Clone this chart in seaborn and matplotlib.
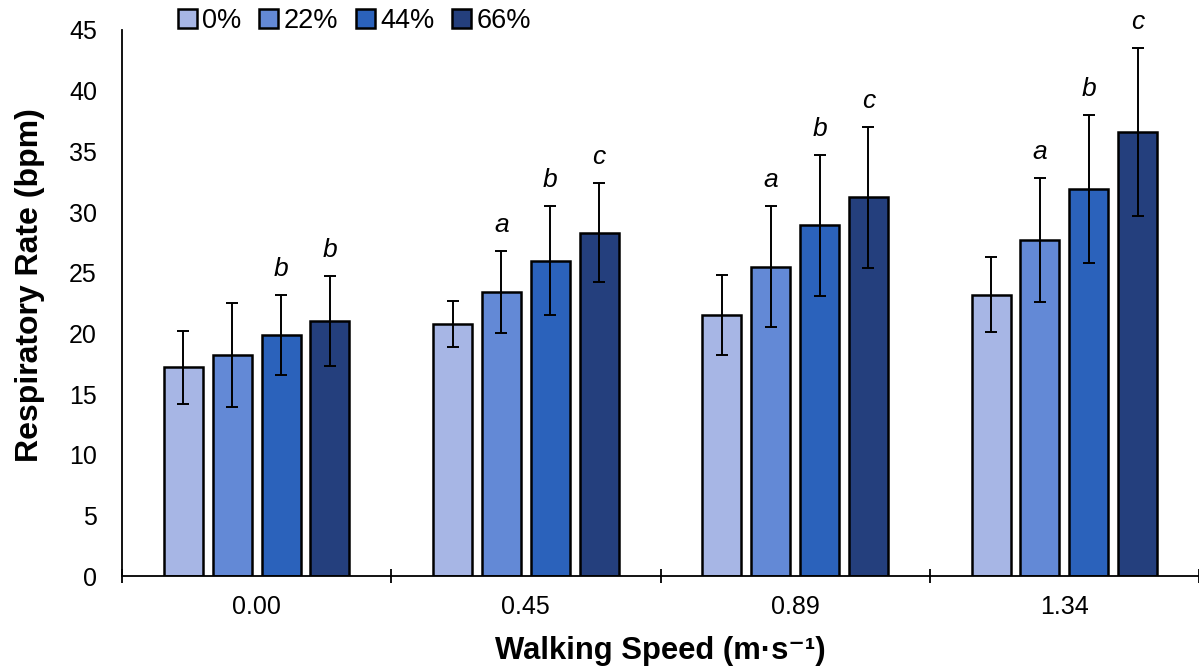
import matplotlib
matplotlib.use("Agg")
import matplotlib.pyplot as plt
import seaborn as sns
import pandas as pd
import numpy as np

speeds = ["0.00", "0.45", "0.89", "1.34"]
loads = ["0%", "22%", "44%", "66%"]
means = {
    "0%":  [17.2, 20.8, 21.5, 23.2],
    "22%": [18.2, 23.4, 25.5, 27.7],
    "44%": [19.9, 26.0, 28.9, 31.9],
    "66%": [21.0, 28.3, 31.2, 36.6],
}
sds = {
    "0%":  [3.0, 1.9, 3.3, 3.1],
    "22%": [4.3, 3.4, 5.0, 5.1],
    "44%": [3.3, 4.5, 5.8, 6.1],
    "66%": [3.7, 4.1, 5.8, 6.9],
}
letters = {
    "0%":  ["", "", "", ""],
    "22%": ["", "a", "a", "a"],
    "44%": ["b", "b", "b", "b"],
    "66%": ["b", "c", "c", "c"],
}
colors = ["#A7B6E5", "#6389D6", "#2B62BB", "#243F7D"]

rows = []
for L in loads:
    for i, s in enumerate(speeds):
        rows.append({"speed": s, "load": L, "rate": means[L][i]})
df = pd.DataFrame(rows)

sns.set_theme(style="white")
plt.rcParams["font.family"] = ["Liberation Sans", "DejaVu Sans"]
plt.rcParams["text.color"] = "black"
plt.rcParams["axes.labelcolor"] = "black"

fig = plt.figure(figsize=(11.99, 6.71), dpi=100)
ax = fig.add_axes([122/1199, 1-576/671, 1-122/1199, (576-30)/671])

sns.barplot(data=df, x="speed", y="rate", hue="load", order=speeds, hue_order=loads,
            palette=colors, saturation=1, width=0.726, gap=0.2, edgecolor="black",
            linewidth=1.8, errorbar=None, ax=ax)

for L, cont in zip(loads, ax.containers):
    xs = [p.get_x() + p.get_width()/2 for p in cont.patches]
    hs = [p.get_height() for p in cont.patches]
    ax.errorbar(xs, hs, yerr=sds[L], fmt="none", ecolor="black", elinewidth=1.4,
                capsize=4.5, capthick=1.4, zorder=5)
    for x, h, e, t in zip(xs, hs, sds[L], letters[L]):
        if t:
            ax.text(x, h + e + 1.15, t, ha="center", va="bottom", fontsize=19,
                    style="italic", color="black")

ax.set_ylim(0, 45)
ax.set_xlim(-0.5, 3.5)
ax.set_yticks(np.arange(0, 46, 5))
ax.tick_params(axis="y", direction="inout", length=12, width=1.3, labelsize=18, pad=12,
               colors="black")
ax.set_xticks([0, 1, 2, 3])
ax.set_xticklabels(speeds)
ax.tick_params(axis="x", which="major", length=0, labelsize=18, pad=14, colors="black")
ax.set_xticks([-0.5, 0.5, 1.5, 2.5, 3.5], minor=True)
ax.tick_params(axis="x", which="minor", direction="inout", length=10, width=1.3,
               bottom=True, colors="black")

for sp in ["top", "right"]:
    ax.spines[sp].set_visible(False)
for sp in ["left", "bottom"]:
    ax.spines[sp].set_color("black")
    ax.spines[sp].set_linewidth(1.3)

ax.set_xlabel("Walking Speed (m·s⁻¹)", fontsize=22.3, fontweight="bold", labelpad=12)
ax.set_ylabel("Respiratory Rate (bpm)", fontsize=23, fontweight="bold")
ax.yaxis.set_label_coords(-0.0715, 0.533)

if ax.get_legend() is not None:
    ax.get_legend().remove()
handles = [plt.Rectangle((0, 0), 1, 1, facecolor=c, edgecolor="black", linewidth=1.8)
           for c in colors]
fig.legend(handles, loads, loc="center left", bbox_to_anchor=(178/1199, 1-21/671),
           ncol=4, frameon=False, fontsize=19.5, handlelength=0.7, handleheight=0.7,
           handletextpad=0.2, columnspacing=0.65, borderpad=0, borderaxespad=0)

fig.savefig("out.png", dpi=100)
